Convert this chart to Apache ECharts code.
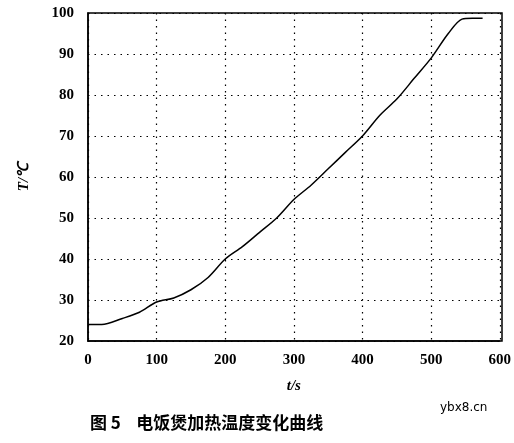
<!DOCTYPE html>
<html><head><meta charset="utf-8">
<script src="https://cdn.jsdelivr.net/npm/echarts@6/dist/echarts.min.js"></script>
<style>html,body{margin:0;background:#fff}#c{width:514px;height:443px}</style>
</head><body><div id="c"></div>
<script>
const times = [0, 20, 50, 75, 100, 125, 150, 175, 200, 225, 250, 275, 300, 325, 350, 375, 400, 425, 450, 475, 500, 525, 545, 560, 575];
const temps = [24, 24, 25.5, 27, 29.5, 30.5, 32.5, 35.5, 40, 43, 46.5, 50, 54.5, 58, 62, 66, 70, 75, 79, 84, 89, 95, 98.5, 98.7, 98.7];

const chart = echarts.init(document.getElementById('c'));
const axisText = { color: '#000', fontSize: 15, fontWeight: 'bold', fontFamily: 'Liberation Serif' };
const dotted = { color: '#000', type: [1.5, 5], width: 1.2 };
chart.setOption({
  animation: false,
  grid: { left: 88, right: 12, top: 13, bottom: 102 },
  xAxis: {
    type: 'value', min: 0, max: 600, interval: 100,
    name: 't/s', nameLocation: 'middle', nameGap: 38,
    nameTextStyle: { ...axisText, fontStyle: 'italic' },
    axisLine: { lineStyle: { color: '#000', width: 1.5 } },
    axisTick: { show: false },
    axisLabel: { ...axisText, margin: 12 },
    splitLine: { lineStyle: dotted }
  },
  yAxis: {
    type: 'value', min: 20, max: 100, interval: 10,
    name: 'T/℃', nameLocation: 'middle', nameGap: 56, nameRotate: 90,
    nameTextStyle: { ...axisText, fontStyle: 'italic' },
    axisLine: { show: true, lineStyle: { color: '#000', width: 1.5 } },
    axisTick: { show: false },
    axisLabel: { ...axisText, margin: 14 },
    splitLine: { lineStyle: dotted }
  },
  series: [{
    type: 'line', showSymbol: false, smooth: 0.3,
    data: times.map((t, i) => [t, temps[i]]),
    lineStyle: { color: '#000', width: 1.5 }
  }],
  graphic: [
    { type: 'rect', shape: { x: 88, y: 13, width: 414, height: 328 }, style: { fill: 'none', stroke: '#000', lineWidth: 1.5 } },
    { type: 'text', left: 90, top: 414, style: { text: '图 5    电饭煲加热温度变化曲线', fill: '#000', font: 'bold 17px "Noto Sans CJK SC"' } },
    { type: 'text', left: 440, top: 402, style: { text: 'ybx8.cn', fill: '#000', font: '12px "DejaVu Sans"' } }
  ]
});
</script></body></html>
